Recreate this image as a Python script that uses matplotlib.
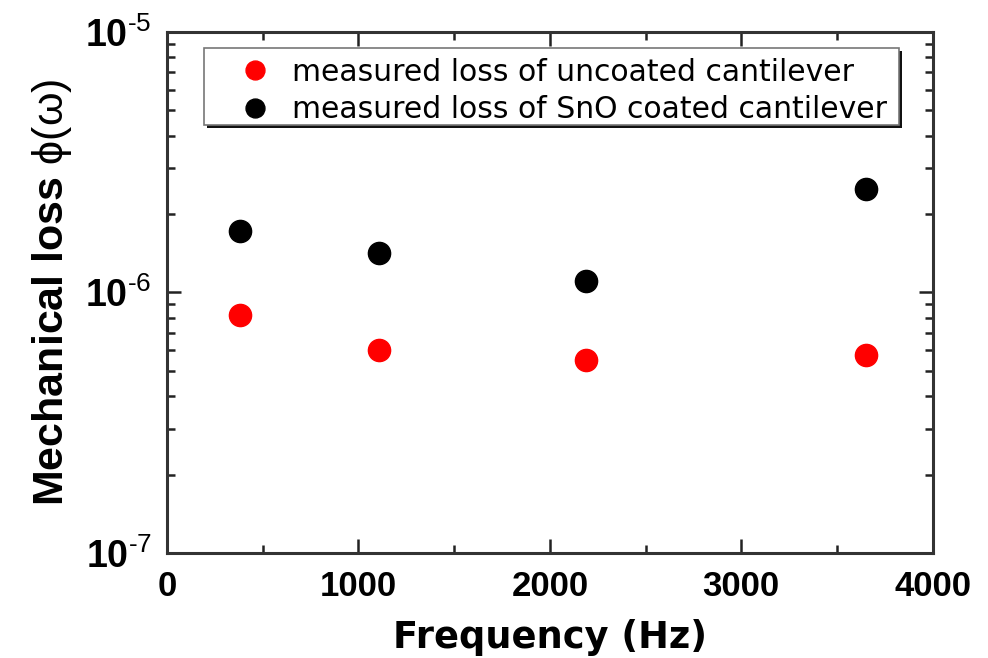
import math
import matplotlib
matplotlib.use("Agg")
import matplotlib.pyplot as plt
from matplotlib.patches import Rectangle
from matplotlib.ticker import FixedLocator, LogLocator, NullFormatter, FuncFormatter, MultipleLocator

plt.rcParams['font.family'] = ['Liberation Sans', 'DejaVu Sans']
plt.rcParams['mathtext.fontset'] = 'custom'
plt.rcParams['mathtext.rm'] = 'Liberation Sans'
plt.rcParams['mathtext.it'] = 'Liberation Sans:italic'
plt.rcParams['mathtext.bf'] = 'Liberation Sans:bold'

# Data
freq_hz = [381, 1107, 2188, 3650]
loss_uncoated = [8.2e-7, 6.0e-7, 5.5e-7, 5.75e-7]
loss_sno = [1.72e-6, 1.42e-6, 1.11e-6, 2.50e-6]
series_labels = ["measured loss of uncoated cantilever",
                 "measured loss of SnO coated cantilever"]
x_ticks = [0, 1000, 2000, 3000, 4000]
y_ticks = [1e-7, 1e-6, 1e-5]

fig = plt.figure(figsize=(9.88, 6.58), dpi=100)
ax = fig.add_axes([0.169, 0.1596, 0.775, 0.7918])

ax.plot(freq_hz, loss_uncoated, 'o', color='#ff0000', markersize=16,
        label=series_labels[0], linestyle='none', zorder=3)
ax.plot(freq_hz, loss_sno, 'o', color='#000000', markersize=16,
        label=series_labels[1], linestyle='none', zorder=3)

ax.set_yscale('log')
ax.set_xlim(0, 4000)
ax.set_ylim(1e-7, 1e-5)

ax.xaxis.set_major_locator(FixedLocator(x_ticks))
ax.xaxis.set_minor_locator(MultipleLocator(500))
ax.yaxis.set_major_locator(FixedLocator(y_ticks))
ax.yaxis.set_minor_locator(LogLocator(base=10, subs=range(2, 10)))
ax.yaxis.set_minor_formatter(NullFormatter())


def yfmt(v, pos):
    e = int(round(math.log10(v)))
    return r'$\mathbf{10}^{\text{%d}}$' % e


ax.yaxis.set_major_formatter(FuncFormatter(yfmt))

ax.tick_params(axis='x', which='major', labelsize=25, pad=12)
ax.tick_params(axis='y', which='major', labelsize=27, pad=11)
ax.tick_params(which='both', direction='in', top=True, right=True,
               color='#222222', width=1.8)
ax.tick_params(which='major', length=10)
ax.tick_params(which='minor', length=6)
for lab in ax.get_xticklabels():
    lab.set_fontweight('bold')

for s in ax.spines.values():
    s.set_linewidth(2.2)
    s.set_color('#333333')

ax.set_xlabel('Frequency (Hz)', fontsize=26.5, fontweight='bold',
              family=['DejaVu Sans'], labelpad=12)
ax.set_ylabel(r'$\mathbf{Mechanical\ loss}\ \mathrm{\phi(\omega)}$',
              fontsize=31, labelpad=8)

# legend frame with dark shadow on bottom/right
x0, x1 = 0.0483, 0.9556
y0, y1 = 0.8215, 0.9693
ax.add_patch(Rectangle((x0 + 0.004, y0 - 0.006), x1 - x0, y1 - y0,
                       transform=ax.transAxes, facecolor='#111111',
                       edgecolor='none', zorder=4, clip_on=False))
ax.add_patch(Rectangle((x0, y0), x1 - x0, y1 - y0, transform=ax.transAxes,
                       facecolor='white', edgecolor='#777777', linewidth=1.2,
                       zorder=4.5, clip_on=False))

leg = ax.legend(loc='upper left', bbox_to_anchor=(0.0953, 0.951), borderaxespad=0,
                prop={'family': 'DejaVu Sans', 'size': 21.5},
                frameon=False, handletextpad=0.73, borderpad=0.0,
                labelspacing=0.3, markerscale=0.85, handlelength=1.0)
leg.set_zorder(5)

fig.savefig('out.png', dpi=100)
